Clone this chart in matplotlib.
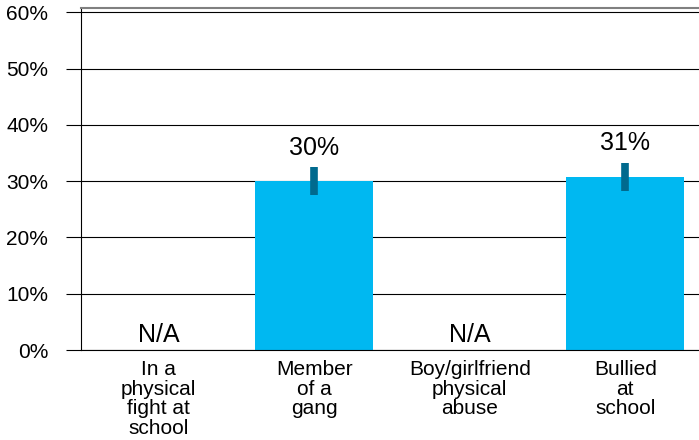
import matplotlib
matplotlib.use("Agg")
import matplotlib.pyplot as plt
import numpy as np
from matplotlib.ticker import PercentFormatter

plt.rcParams["font.family"] = ["Liberation Sans", "DejaVu Sans"]

categories = [
    "In a\nphysical\nfight at\nschool",
    "Member\nof a\ngang",
    "Boy/girlfriend\nphysical\nabuse",
    "Bullied\nat\nschool",
]
values = [np.nan, 0.300, np.nan, 0.308]
errors = [np.nan, 0.0245, np.nan, 0.0245]
value_labels = ["N/A", "30%", "N/A", "31%"]

BAR_COLOR = "#00B8F1"
ERR_COLOR = "#006A8E"

fig = plt.figure(figsize=(6.99, 4.40), dpi=100)
ax = fig.add_axes([81 / 699, 90 / 440, 622 / 699, 342 / 440])

x = np.arange(len(categories))
heights = np.nan_to_num(values)
ax.bar(x, heights, width=0.757, color=BAR_COLOR, zorder=2)

for xi, val, err, lab in zip(x, values, errors, value_labels):
    if np.isnan(val):
        ax.annotate(lab, (xi, 0), xytext=(0, 6), textcoords="offset points",
                    ha="center", va="baseline", fontsize=18)
        continue
    ax.plot([xi, xi], [val - err, val + err], color=ERR_COLOR,
            linewidth=5.5, solid_capstyle="butt", zorder=3)
    ax.annotate(lab, (xi, val + err), xytext=(0, 9), textcoords="offset points",
                ha="center", va="baseline", fontsize=18)

ax.set_xlim(-0.5, len(categories) - 0.5)
ax.set_ylim(0, 0.608)
ax.set_yticks(np.arange(0, 0.61, 0.1))
ax.yaxis.set_major_formatter(PercentFormatter(1.0, decimals=0))
ax.set_xticks(x)
ax.set_xticklabels(categories, fontsize=15, linespacing=1.03)

ax.grid(axis="y", color="black", linewidth=0.8, zorder=1)
ax.set_axisbelow(True)
ax.tick_params(axis="y", length=11, width=0.8, pad=12.5, labelsize=15, color="black")
ax.tick_params(axis="x", length=0, pad=7.5)

ax.spines["right"].set_visible(False)
ax.spines["top"].set_color("#808080")
ax.spines["top"].set_linewidth(1.5)
ax.spines["left"].set_linewidth(0.8)
ax.spines["bottom"].set_linewidth(0.8)

fig.savefig("out.png", dpi=100)
